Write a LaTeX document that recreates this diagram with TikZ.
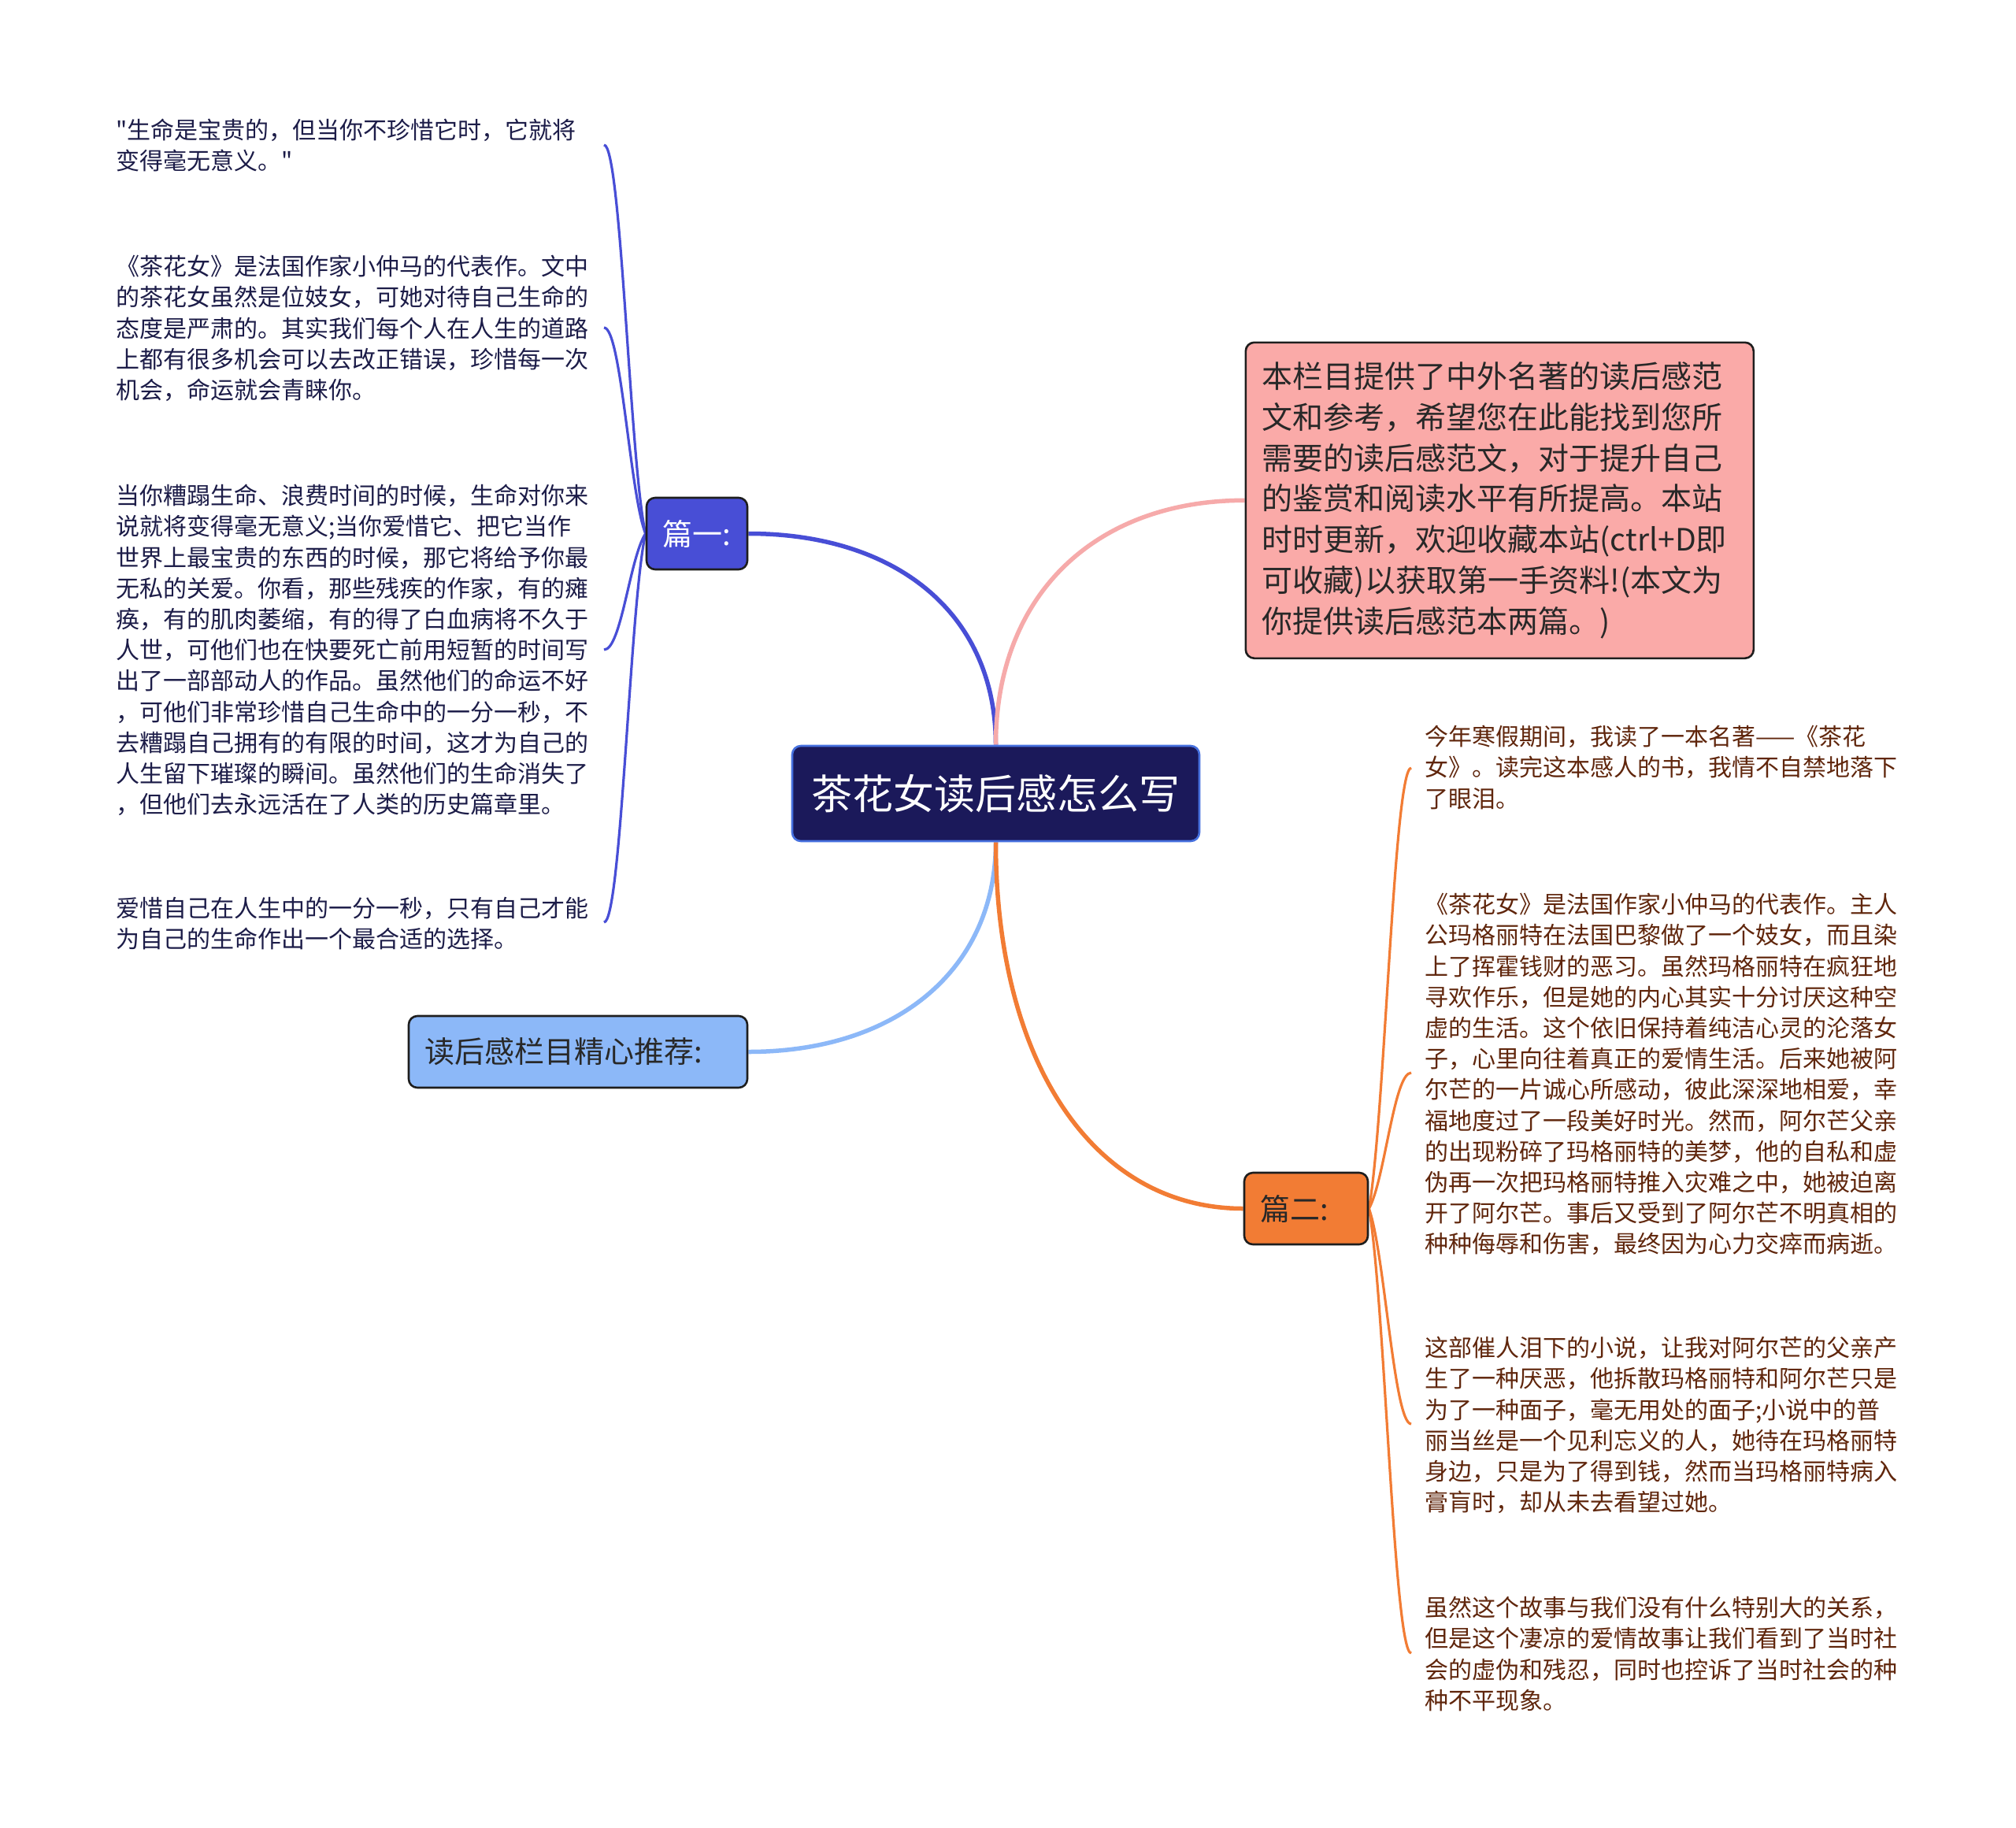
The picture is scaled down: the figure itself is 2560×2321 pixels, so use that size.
\documentclass[tikz,border=0pt]{standalone}
\usepackage{fontspec}
\setmainfont{Noto Sans CJK SC}
\newfontfamily\qfont{Noto Sans CJK SC}
\usetikzlibrary{backgrounds}
\definecolor{rootfill}{RGB}{27,25,90}
\definecolor{rootborder}{RGB}{70,112,222}
\definecolor{bluebr}{RGB}{72,78,214}
\definecolor{pinkbr}{RGB}{246,170,170}
\definecolor{pinkfill}{RGB}{250,170,168}
\definecolor{lbbr}{RGB}{140,184,248}
\definecolor{orbr}{RGB}{242,124,52}
\definecolor{edgec}{RGB}{30,30,30}
\definecolor{darktext}{RGB}{40,40,40}
\definecolor{lefttext}{RGB}{28,28,72}
\definecolor{righttext}{RGB}{96,38,12}
\tikzset{
  box/.style={draw=edgec, line width=2.6pt, rounded corners=11pt, inner sep=0pt},
  smallbox/.style={box, minimum height=91pt, inner xsep=20pt, align=left, font=\fontsize{38}{44}\selectfont},
  leafL/.style={anchor=north west, inner sep=0pt, align=left, text=lefttext, font=\fontsize{30}{39.2}\selectfont},
  leafR/.style={anchor=north west, inner sep=0pt, align=left, text=righttext, font=\fontsize{30}{39.2}\selectfont},
  mainline/.style={line width=5.5pt},
  leafline/.style={line width=3.2pt},
}
\begin{document}
\begin{tikzpicture}[x=1pt,y=-1pt]
\useasboundingbox (0,0) rectangle (2560,2321);

% central
\node[box, draw=rootborder, line width=2.6pt, fill=rootfill, text=white, minimum width=517pt, minimum height=121pt, font=\fontsize{52}{60}\selectfont] (root) at (1264.5,1007.5) {茶花女读后感怎么写};

% main branch nodes
\node[smallbox, fill=bluebr, text=white, text width=88pt] (p1) at (885,677.5) {篇一:};
\node[box, fill=pinkfill, text=darktext, anchor=north west, minimum width=645pt, minimum height=401pt, inner xsep=21pt, text width=603pt, align=left, font=\fontsize{39}{51.7}\selectfont] (intro) at (1580.5,433.5) {本栏目提供了中外名著的读后感范\\文和参考，希望您在此能找到您所\\需要的读后感范文，对于提升自己\\的鉴赏和阅读水平有所提高。本站\\时时更新，欢迎收藏本站(ctrl+D即\\可收藏)以获取第一手资料!(本文为\\你提供读后感范本两篇。)};
\node[smallbox, fill=lbbr, text=darktext, text width=390pt] (rec) at (734,1335.5) {读后感栏目精心推荐:};
\node[smallbox, fill=orbr, text=darktext, text width=117pt] (p2) at (1658.5,1534.5) {篇二:};

% left leaves
\node[leafL] (l1) at (147,151) {{\qfont"}生命是宝贵的，但当你不珍惜它时，它就将\\变得毫无意义。{\qfont"}};
\node[leafL] (l2) at (147,324) {《茶花女》是法国作家小仲马的代表作。文中\\的茶花女虽然是位妓女，可她对待自己生命的\\态度是严肃的。其实我们每个人在人生的道路\\上都有很多机会可以去改正错误，珍惜每一次\\机会，命运就会青睐你。};
\node[leafL] (l3) at (147,615) {当你糟蹋生命、浪费时间的时候，生命对你来\\说就将变得毫无意义;当你爱惜它、把它当作\\世界上最宝贵的东西的时候，那它将给予你最\\无私的关爱。你看，那些残疾的作家，有的瘫\\痪，有的肌肉萎缩，有的得了白血病将不久于\\人世，可他们也在快要死亡前用短暂的时间写\\出了一部部动人的作品。虽然他们的命运不好\\，可他们非常珍惜自己生命中的一分一秒，不\\去糟蹋自己拥有的有限的时间，这才为自己的\\人生留下璀璨的瞬间。虽然他们的生命消失了\\，但他们去永远活在了人类的历史篇章里。};
\node[leafL] (l4) at (147,1139) {爱惜自己在人生中的一分一秒，只有自己才能\\为自己的生命作出一个最合适的选择。};

% right leaves
\node[leafR] (r1) at (1809,921) {今年寒假期间，我读了一本名著——《茶花\\女》。读完这本感人的书，我情不自禁地落下\\了眼泪。};
\node[leafR] (r2) at (1809,1134) {《茶花女》是法国作家小仲马的代表作。主人\\公玛格丽特在法国巴黎做了一个妓女，而且染\\上了挥霍钱财的恶习。虽然玛格丽特在疯狂地\\寻欢作乐，但是她的内心其实十分讨厌这种空\\虚的生活。这个依旧保持着纯洁心灵的沦落女\\子，心里向往着真正的爱情生活。后来她被阿\\尔芒的一片诚心所感动，彼此深深地相爱，幸\\福地度过了一段美好时光。然而，阿尔芒父亲\\的出现粉碎了玛格丽特的美梦，他的自私和虚\\伪再一次把玛格丽特推入灾难之中，她被迫离\\开了阿尔芒。事后又受到了阿尔芒不明真相的\\种种侮辱和伤害，最终因为心力交瘁而病逝。};
\node[leafR] (r3) at (1809,1697) {这部催人泪下的小说，让我对阿尔芒的父亲产\\生了一种厌恶，他拆散玛格丽特和阿尔芒只是\\为了一种面子，毫无用处的面子;小说中的普\\丽当丝是一个见利忘义的人，她待在玛格丽特\\身边，只是为了得到钱，然而当玛格丽特病入\\膏肓时，却从未去看望过她。};
\node[leafR] (r4) at (1809,2027) {虽然这个故事与我们没有什么特别大的关系，\\但是这个凄凉的爱情故事让我们看到了当时社\\会的虚伪和残忍，同时也控诉了当时社会的种\\种不平现象。};

% connector ends
\coordinate (cl1) at (767,184);
\coordinate (cl2) at (767,416);
\coordinate (cl3) at (767,825);
\coordinate (cl4) at (767,1171);
\coordinate (cr1) at (1792,975);
\coordinate (cr2) at (1792,1362);
\coordinate (cr3) at (1792,1808);
\coordinate (cr4) at (1792,2099);

\begin{scope}[on background layer]
\fill[white] (0,0) rectangle (2560,2321);
\draw[mainline, bluebr] (root.north) .. controls +(0,-165) and +(190,0) .. (p1.east);
\draw[mainline, pinkbr] (root.north) .. controls +(0,-190) and +(-190,0) .. (intro.west);
\draw[mainline, lbbr] (root.south) .. controls +(0,160) and +(190,0) .. (rec.east);
\draw[mainline, orbr] (root.south) .. controls +(0,280) and +(-190,0) .. (p2.west);

\draw[leafline, bluebr] (p1.west) .. controls +(-20,-90) and +(22,0) .. (cl1);
\draw[leafline, bluebr] (p1.west) .. controls +(-20,-50) and +(22,0) .. (cl2);
\draw[leafline, bluebr] (p1.west) .. controls +(-20,30) and +(22,0) .. (cl3);
\draw[leafline, bluebr] (p1.west) .. controls +(-20,90) and +(22,0) .. (cl4);

\draw[leafline, orbr] (p2.east) .. controls +(20,-110) and +(-22,0) .. (cr1);
\draw[leafline, orbr] (p2.east) .. controls +(20,-35) and +(-22,0) .. (cr2);
\draw[leafline, orbr] (p2.east) .. controls +(20,55) and +(-22,0) .. (cr3);
\draw[leafline, orbr] (p2.east) .. controls +(20,110) and +(-22,0) .. (cr4);
\end{scope}
\end{tikzpicture}
\end{document}
